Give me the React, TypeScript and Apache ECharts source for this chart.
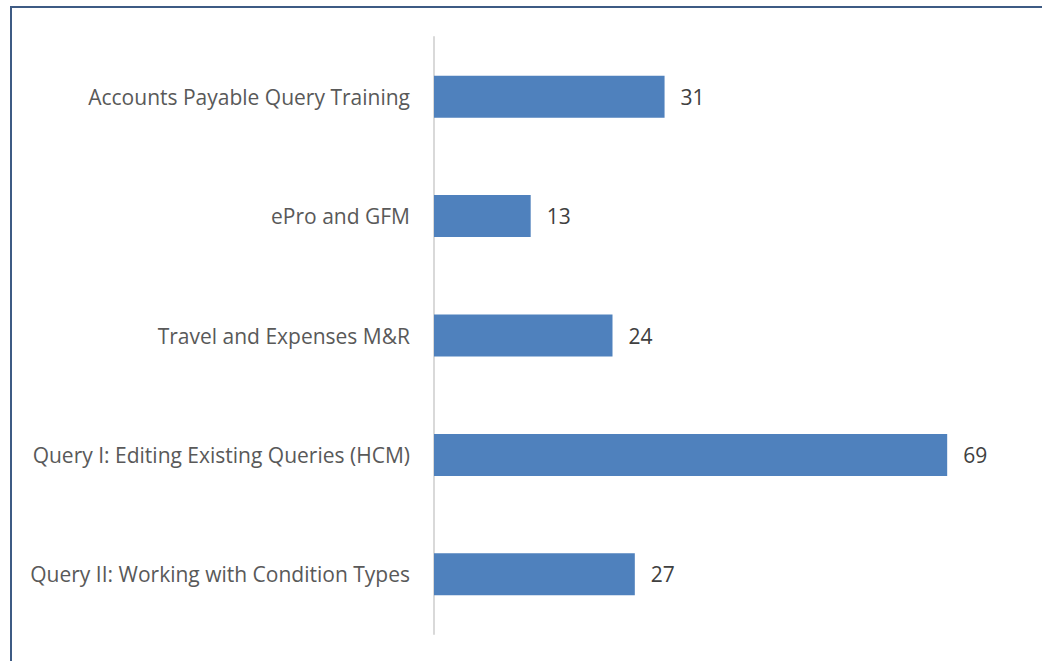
import React, { useEffect, useRef } from "react";
import * as echarts from "echarts";

const categories = [
  "Accounts Payable Query Training",
  "ePro and GFM",
  "Travel and Expenses M&R",
  "Query I: Editing Existing Queries (HCM)",
  "Query II: Working with Condition Types",
];
const values = [31, 13, 24, 69, 27];

export default function App() {
  const ref = useRef<HTMLDivElement>(null);
  useEffect(() => {
    if (!ref.current) return;
    const chart = echarts.init(ref.current, null, { renderer: "svg" });
    chart.setOption({
      animation: false,
      backgroundColor: "#ffffff",
      graphic: [
        {
          type: "rect",
          shape: { x: 11, y: 7, width: 1100, height: 700 },
          style: { fill: "none", stroke: "#3E5B84", lineWidth: 2 },
          silent: true,
        },
      ],
      grid: { left: 434, top: 37, width: 595, height: 597, containLabel: false },
      xAxis: {
        type: "value",
        min: 0,
        max: 80,
        show: false,
        splitLine: { show: false },
      },
      yAxis: {
        type: "category",
        data: categories,
        inverse: true,
        axisLine: { show: true, lineStyle: { color: "#D9D9D9", width: 2 } },
        axisTick: { show: false },
        axisLabel: {
          margin: 24,
          color: "#595959",
          fontSize: 21,
          fontFamily: "'Open Sans', sans-serif",
        },
      },
      series: [
        {
          type: "bar",
          data: values,
          barWidth: 42,
          itemStyle: { color: "#4F81BD" },
          label: {
            show: true,
            position: "right",
            distance: 16,
            color: "#404040",
            fontSize: 21,
            fontFamily: "'Open Sans', sans-serif",
          },
        },
      ],
    });
    return () => chart.dispose();
  }, []);
  return (
    <div
      ref={ref}
      style={{ position: "fixed", left: 0, top: 0, width: 1042, height: 661 }}
    />
  );
}
